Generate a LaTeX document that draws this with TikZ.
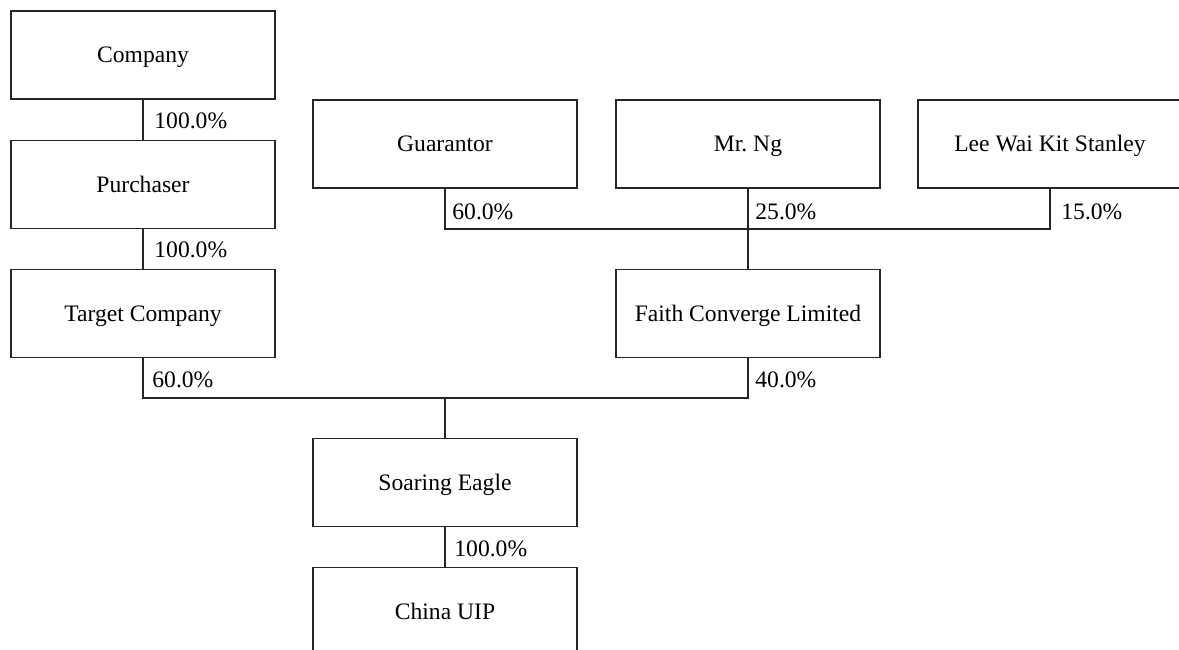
\documentclass[tikz,border=0pt]{standalone}
\usepackage{fontspec}
\setmainfont{Liberation Serif}
\begin{document}
\begin{tikzpicture}[x=0.5pt,y=-0.5pt,
  box/.style={draw=black!85,line width=0.7pt,minimum width=132pt,minimum height=44pt,inner sep=0pt,text height=7.8pt,text depth=0pt,font=\fontsize{11.8}{14}\selectfont},
  pct/.style={anchor=west,inner sep=0pt,text height=7.8pt,text depth=0pt,font=\fontsize{11.8}{14}\selectfont},
  conn/.style={draw=black!85,line width=0.7pt}]
\useasboundingbox (0,0) rectangle (1179,649);
\node[box] (company) at (143,55) {Company};
\node[box] (purch) at (143,184.5) {Purchaser};
\node[box] (target) at (143,313.5) {Target Company};
\node[box] (guar) at (445,144) {Guarantor};
\node[box] (ng) at (748,144) {Mr.\ Ng};
\node[box] (lee) at (1050,144) {Lee Wai Kit Stanley};
\node[box] (faith) at (748,313.5) {Faith Converge Limited};
\node[box] (soar) at (445,482.5) {Soaring Eagle};
\node[box] (china) at (445,611.5) {China UIP};
\coordinate (b1) at (748,229);
\coordinate (b2) at (445,398);
\draw[conn] (company) -- (purch);
\draw[conn] (purch) -- (target);
\draw[conn] (guar.south) |- (b1);
\draw[conn] (lee.south) |- (b1);
\draw[conn] (ng) -- (faith);
\draw[conn] (target.south) |- (b2);
\draw[conn] (faith.south) |- (b2);
\draw[conn] (b2) -- (soar);
\draw[conn] (soar) -- (china);
\node[pct] (p1) at (154,121) {100.0\%};
\node[pct] (p2) at (154,250) {100.0\%};
\node[pct] (p3) at (452,212) {60.0\%};
\node[pct] (p4) at (755,212) {25.0\%};
\node[pct] (p5) at (1061,212) {15.0\%};
\node[pct] (p6) at (152,380) {60.0\%};
\node[pct] (p7) at (755,380) {40.0\%};
\node[pct] (p8) at (454,549) {100.0\%};
\end{tikzpicture}
\end{document}
